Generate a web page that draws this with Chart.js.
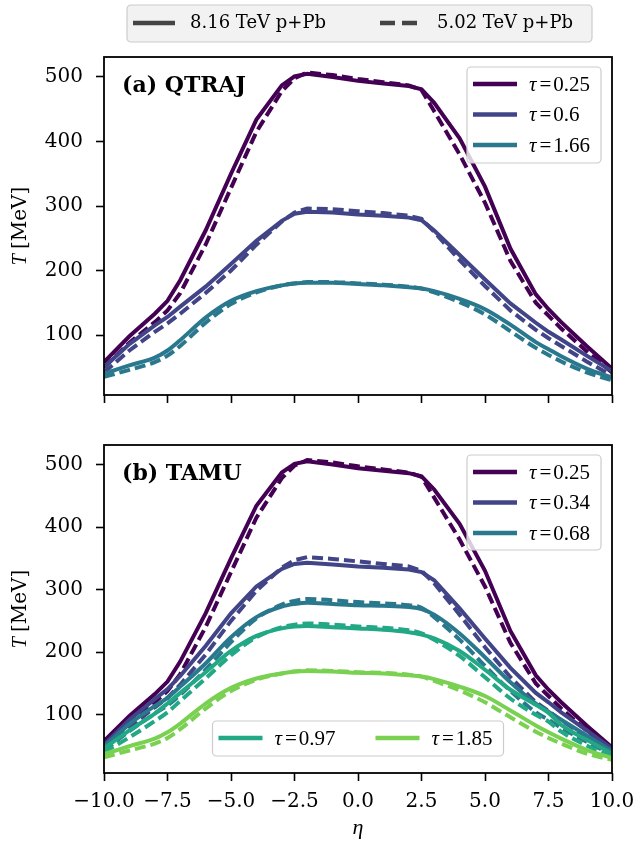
<!DOCTYPE html>
<html>
<head>
<meta charset="utf-8">
<script src="https://cdn.jsdelivr.net/npm/chart.js@4.4.0/dist/chart.umd.min.js"></script>
<style>
html, body { margin: 0; padding: 0; background: #fff; overflow: hidden; }
#wrap { position: relative; width: 633px; height: 847px; overflow: hidden; }
canvas { position: absolute; left: 0; }
</style>
</head>
<body>
<div id="wrap">
  <canvas id="chartA" width="700" height="420" style="top:0;width:700px;height:420px"></canvas>
  <canvas id="chartB" width="700" height="427" style="top:420px;width:700px;height:427px"></canvas>
</div>
<script>
// pseudorapidity grid shared by every curve
var eta = [-10, -9, -8, -7.5, -7, -6, -5, -4, -3, -2.5, -2, -1, 0, 1, 2, 2.5, 3, 4, 5, 6, 7, 7.5, 8, 9, 10];
var xTicks = [-10, -7.5, -5, -2.5, 0, 2.5, 5, 7.5, 10];
var yTicks = [100, 200, 300, 400, 500];
var viridis = ["#440154", "#414487", "#2a788e", "#22a884", "#7ad151"];

// shared tau = 0.25 initial profile
var t025_816 = [58, 98, 133, 153, 185, 262, 350, 434, 487, 501, 505, 500, 494, 490, 486, 481, 460, 405, 330, 234, 163, 140, 120, 83, 48];
var t025_502 = [50, 88, 120, 138, 165, 240, 328, 415, 478, 498, 507, 503, 497, 492, 487, 480, 447, 380, 305, 215, 150, 130, 110, 75, 42];

// (a) QTRAJ
var qtrajTau = ["0.25", "0.6", "1.66"];
var q06_816 = [50, 86, 115, 128, 144, 175, 210, 246, 277, 288, 291, 290, 287, 285, 282, 278, 262, 224, 186, 149, 119, 105, 93, 68, 44];
var q06_502 = [42, 76, 105, 118, 133, 165, 200, 240, 276, 290, 296, 295, 292, 289, 285, 280, 260, 216, 176, 138, 108, 95, 83, 59, 37];
var q166_816 = [40, 53, 65, 76, 92, 127, 153, 168, 177, 180, 181, 181, 179, 177, 174, 172, 168, 156, 140, 116, 89, 78, 67, 48, 34];
var q166_502 = [35, 46, 58, 68, 83, 119, 148, 166, 177, 180, 182, 182, 180, 178, 175, 172, 166, 151, 132, 106, 80, 69, 59, 42, 30];

// (b) TAMU
var tamuTau = ["0.25", "0.34", "0.68", "0.97", "1.85"];
var t034_816 = [52, 92, 125, 141, 162, 210, 262, 305, 333, 341, 343, 340, 337, 335, 332, 328, 315, 270, 222, 175, 135, 120, 104, 75, 46];
var t034_502 = [45, 80, 112, 127, 148, 196, 250, 298, 335, 347, 352, 349, 345, 341, 337, 330, 310, 260, 208, 160, 120, 106, 91, 65, 40];
var t068_816 = [49, 85, 114, 127, 145, 182, 224, 256, 273, 277, 279, 277, 275, 274, 272, 269, 260, 230, 192, 152, 118, 105, 92, 67, 42];
var t068_502 = [42, 74, 102, 115, 132, 172, 216, 254, 276, 282, 285, 283, 280, 278, 275, 271, 256, 220, 178, 138, 104, 92, 79, 57, 36];
var t097_816 = [46, 75, 102, 118, 135, 168, 202, 226, 238, 241, 242, 240, 238, 236, 232, 228, 222, 202, 172, 140, 116, 103, 84, 60, 38];
var t097_502 = [40, 64, 90, 104, 122, 158, 195, 224, 240, 244, 246, 244, 241, 239, 235, 230, 220, 194, 160, 126, 100, 89, 73, 51, 33];
var t185_816 = [37, 50, 62, 72, 86, 118, 143, 158, 166, 169, 170, 169, 167, 166, 163, 161, 157, 145, 130, 107, 83, 72, 62, 44, 31];
var t185_502 = [32, 43, 54, 63, 77, 110, 138, 156, 166, 169, 171, 170, 168, 167, 164, 161, 154, 139, 120, 96, 73, 63, 54, 38, 28];

var SERIF = '"DejaVu Serif", serif';
var MATH = '"Liberation Serif", serif';

function line(tau, color, vals, dashed, smooth) {
    return {
        label: tau,
        data: eta.map(function (x, i) { return { x: x, y: vals[i] }; }),
        borderColor: color,
        borderWidth: 4,
        borderDash: dashed ? [11, 5] : [],
        pointRadius: 0,
        cubicInterpolationMode: smooth ? "monotone" : "default",
        tension: 0,
        fill: false
    };
}

function withOrder(list) {
    // later series on top, like the original plot
    list.forEach(function (d, i) { d.order = -i; });
    return list;
}

function drawTau(ctx, x, y, val) {
    ctx.font = "italic 21px " + MATH;
    ctx.fillText("\u03c4", x, y);
    x += ctx.measureText("\u03c4").width + 3;
    ctx.font = "21px " + MATH;
    ctx.fillText("=", x, y);
    x += ctx.measureText("=").width + 2;
    ctx.fillText(val, x, y);
}

function box(ctx, x, y, w, h, fill, stroke) {
    ctx.beginPath();
    ctx.roundRect(x, y, w, h, 4);
    ctx.fillStyle = fill;
    ctx.fill();
    ctx.lineWidth = 1.2;
    ctx.strokeStyle = stroke;
    ctx.stroke();
}

var decor = {
    id: "decor",
    afterDraw: function (chart, args, o) {
        var ctx = chart.ctx, a = chart.chartArea;
        ctx.save();
        ctx.setLineDash([]);
        ctx.lineWidth = 1.8;
        ctx.strokeStyle = "#000";
        ctx.strokeRect(a.left, a.top, a.right - a.left, a.bottom - a.top);

        ctx.fillStyle = "#000";
        ctx.textAlign = "left";
        ctx.textBaseline = "alphabetic";
        ctx.font = "bold 22px " + SERIF;
        ctx.fillText(o.title, a.left + 18, a.top + 35);

        // y axis title
        ctx.save();
        ctx.translate(21, (a.top + a.bottom) / 2);
        ctx.rotate(-Math.PI / 2);
        ctx.textBaseline = "middle";
        ctx.font = "italic 20px " + MATH;
        var wT = ctx.measureText("T ").width;
        ctx.font = "20px " + SERIF;
        var wM = ctx.measureText("[MeV]").width;
        var sx = -(wT + wM) / 2;
        ctx.font = "italic 20px " + MATH;
        ctx.fillText("T", sx, 0);
        ctx.font = "20px " + SERIF;
        ctx.fillText("[MeV]", sx + wT, 0);
        ctx.restore();

        // legends inside the panel
        o.legends.forEach(function (lg) {
            var lx = lg.anchor === "right" ? a.right - lg.dx - lg.w : (a.left + a.right) / 2 - lg.w / 2;
            var ly = lg.anchor === "right" ? a.top + lg.dy : a.bottom - lg.dy - lg.h;
            box(ctx, lx, ly, lg.w, lg.h, "rgba(255,255,255,0.8)", "#cccccc");
            lg.items.forEach(function (di, k) {
                var ds = chart.data.datasets[di];
                var ex = lx + 6 + (lg.cols > 1 ? k * lg.colStep : 0);
                var ey = ly + 17 + (lg.cols > 1 ? 0 : k * 30.5);
                ctx.setLineDash([]);
                ctx.lineWidth = 4.5;
                ctx.strokeStyle = ds.borderColor;
                ctx.beginPath();
                ctx.moveTo(ex, ey);
                ctx.lineTo(ex + 44, ey);
                ctx.stroke();
                ctx.fillStyle = "#000";
                ctx.textBaseline = "middle";
                drawTau(ctx, ex + 56, ey + 1, ds.label);
            });
        });

        // energy legend on top of the figure
        if (o.energyLegend) {
            box(ctx, 127, 5, 465, 37, "#f2f2f2", "#cccccc");
            ctx.strokeStyle = "#444";
            ctx.lineWidth = 4.5;
            ctx.beginPath();
            ctx.moveTo(133, 23);
            ctx.lineTo(175, 23);
            ctx.stroke();
            ctx.setLineDash([15, 7]);
            ctx.beginPath();
            ctx.moveTo(380, 23);
            ctx.lineTo(420, 23);
            ctx.stroke();
            ctx.setLineDash([]);
            ctx.fillStyle = "#000";
            ctx.textBaseline = "middle";
            ctx.font = "18px " + SERIF;
            ctx.fillText("8.16 TeV p+Pb", 190, 23);
            ctx.fillText("5.02 TeV p+Pb", 437, 23);
        }

        if (o.xTitle) {
            ctx.textAlign = "center";
            ctx.textBaseline = "middle";
            ctx.font = "italic 22px " + MATH;
            ctx.fillText("\u03b7", (a.left + a.right) / 2, a.bottom + 55);
        }
        ctx.restore();
    }
};

function tickFmt(v) {
    return (v < 0 ? "\u2212" : "") + Math.abs(v).toFixed(1);
}

function scales(showX, xHeight) {
    return {
        x: {
            type: "linear",
            min: -10,
            max: 10,
            afterBuildTicks: function (s) { s.ticks = xTicks.map(function (v) { return { value: v }; }); },
            afterFit: function (s) { s.height = xHeight; },
            border: { display: false },
            grid: { drawOnChartArea: false, drawTicks: true, tickLength: 8, tickWidth: 1.6, tickColor: "#000" },
            ticks: { display: showX, autoSkip: false, padding: 9, color: "#000", font: { family: SERIF, size: 20 }, callback: tickFmt, maxRotation: 0 }
        },
        y: {
            type: "linear",
            min: 7,
            max: 531,
            afterBuildTicks: function (s) { s.ticks = yTicks.map(function (v) { return { value: v }; }); },
            afterFit: function (s) { s.width = 104; },
            border: { display: false },
            grid: { drawOnChartArea: false, drawTicks: true, tickLength: 8, tickWidth: 1.6, tickColor: "#000" },
            ticks: { autoSkip: false, padding: 13, color: "#000", font: { family: SERIF, size: 20 } }
        }
    };
}

var common = {
    responsive: false,
    animation: false,
    events: [],
    plugins: { legend: { display: false }, tooltip: { enabled: false } }
};

var dsA = withOrder([
    line(qtrajTau[0], viridis[0], t025_816, false, false), line(qtrajTau[0], viridis[0], t025_502, true, false),
    line(qtrajTau[1], viridis[1], q06_816, false, false), line(qtrajTau[1], viridis[1], q06_502, true, false),
    line(qtrajTau[2], viridis[2], q166_816, false, true), line(qtrajTau[2], viridis[2], q166_502, true, true)
]);

new Chart(document.getElementById("chartA"), {
    type: "line",
    data: { datasets: dsA },
    options: Object.assign({}, common, {
        layout: { padding: { top: 57, left: 0, right: 88, bottom: 0 } },
        scales: scales(false, 22),
        plugins: Object.assign({}, common.plugins, {
            decor: {
                title: "(a) QTRAJ",
                energyLegend: true,
                legends: [{ anchor: "right", dx: 11, dy: 10, w: 134, h: 96, cols: 1, items: [0, 2, 4] }]
            }
        })
    }),
    plugins: [decor]
});

var dsB = withOrder([
    line(tamuTau[0], viridis[0], t025_816, false, false), line(tamuTau[0], viridis[0], t025_502, true, false),
    line(tamuTau[1], viridis[1], t034_816, false, false), line(tamuTau[1], viridis[1], t034_502, true, false),
    line(tamuTau[2], viridis[2], t068_816, false, true), line(tamuTau[2], viridis[2], t068_502, true, true),
    line(tamuTau[3], viridis[3], t097_816, false, true), line(tamuTau[3], viridis[3], t097_502, true, true),
    line(tamuTau[4], viridis[4], t185_816, false, true), line(tamuTau[4], viridis[4], t185_502, true, true)
]);

new Chart(document.getElementById("chartB"), {
    type: "line",
    data: { datasets: dsB },
    options: Object.assign({}, common, {
        layout: { padding: { top: 13, left: 0, right: 88, bottom: 0 } },
        scales: scales(true, 74),
        plugins: Object.assign({}, common.plugins, {
            decor: {
                title: "(b) TAMU",
                xTitle: true,
                legends: [
                    { anchor: "right", dx: 11, dy: 10, w: 134, h: 95, cols: 1, items: [0, 2, 4] },
                    { anchor: "bottom", dy: 17, w: 291, h: 35, cols: 2, colStep: 157, items: [6, 8] }
                ]
            }
        })
    }),
    plugins: [decor]
});
</script>
</body>
</html>
